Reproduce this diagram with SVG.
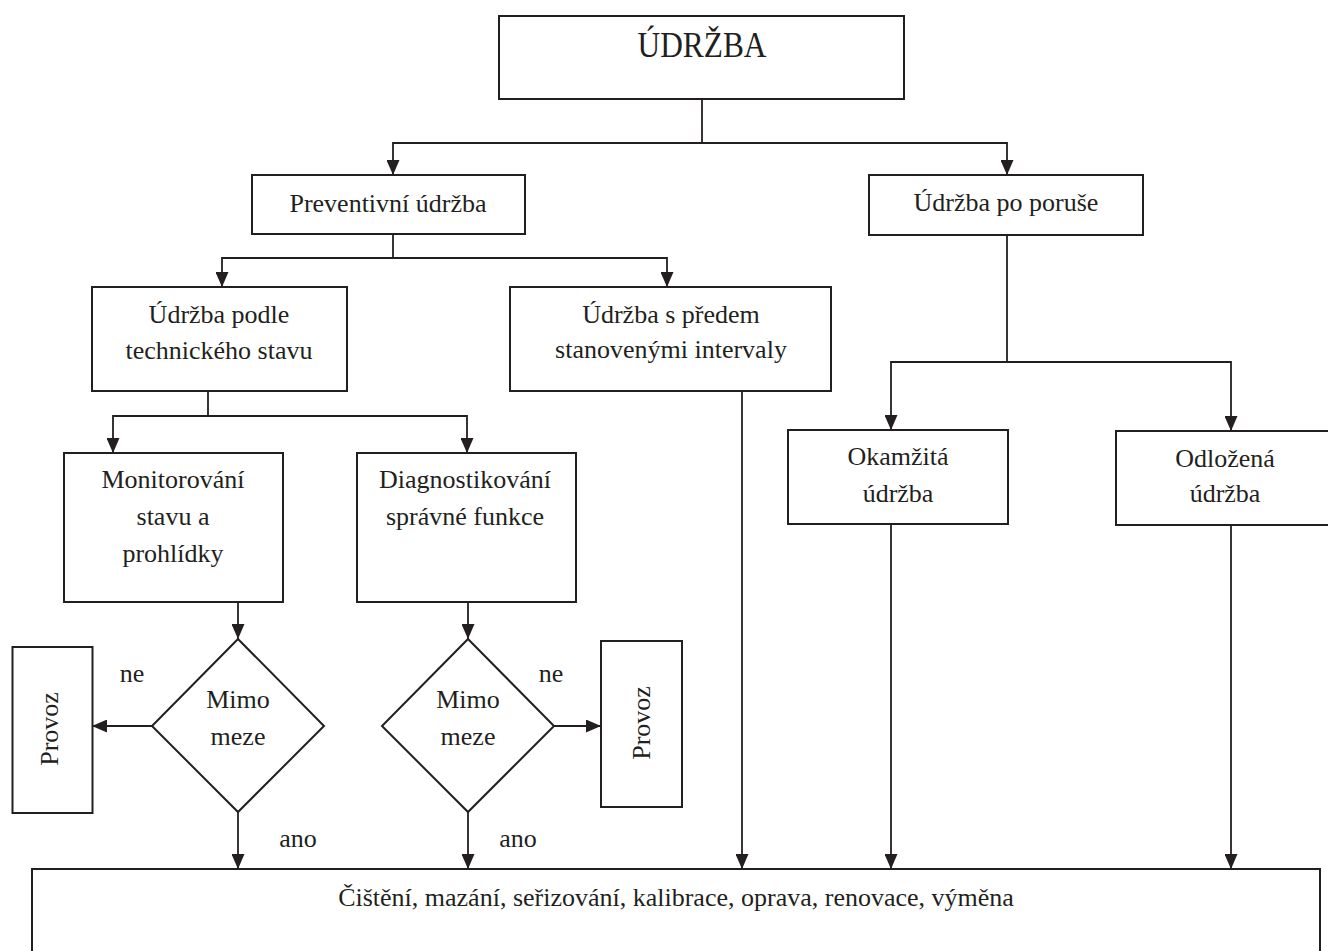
<svg xmlns="http://www.w3.org/2000/svg" width="1328" height="951" viewBox="0 0 1328 951">
<style>
  .box { fill: #ffffff; stroke: #231f20; stroke-width: 2; }
  .ln { fill: none; stroke: #231f20; stroke-width: 1.8; }
  .t { font-family: "Liberation Serif", "Times New Roman", serif; font-size: 26px; fill: #231f20; text-anchor: middle; }
  .title { font-size: 35px; }
</style>
<defs>
  <marker id="arr" viewBox="0 0 15 13" refX="15" refY="6.5" markerWidth="15" markerHeight="13" markerUnits="userSpaceOnUse" orient="auto">
    <path d="M0,0 L15,6.5 L0,13 Z" fill="#231f20"/>
  </marker>
</defs>
<rect width="1328" height="951" fill="#ffffff"/>

<g id="connectors">
  <path class="ln" d="M702,99 V143"/>
  <path class="ln" d="M702,143 H393 V175" marker-end="url(#arr)"/>
  <path class="ln" d="M702,143 H1007 V175" marker-end="url(#arr)"/>
  <path class="ln" d="M393,234 V258"/>
  <path class="ln" d="M393,258 H222 V287" marker-end="url(#arr)"/>
  <path class="ln" d="M393,258 H667 V287" marker-end="url(#arr)"/>
  <path class="ln" d="M208,391 V416"/>
  <path class="ln" d="M208,416 H113 V453" marker-end="url(#arr)"/>
  <path class="ln" d="M208,416 H467 V453" marker-end="url(#arr)"/>
  <path class="ln" d="M238,602 V639" marker-end="url(#arr)"/>
  <path class="ln" d="M468,602 V639" marker-end="url(#arr)"/>
  <path class="ln" d="M152,726 H92" marker-end="url(#arr)"/>
  <path class="ln" d="M554,726 H601" marker-end="url(#arr)"/>
  <path class="ln" d="M238,812 V869" marker-end="url(#arr)"/>
  <path class="ln" d="M468,812 V869" marker-end="url(#arr)"/>
  <path class="ln" d="M742,391 V869" marker-end="url(#arr)"/>
  <path class="ln" d="M1007,235 V362"/>
  <path class="ln" d="M1007,362 H891 V430" marker-end="url(#arr)"/>
  <path class="ln" d="M1007,362 H1231 V431" marker-end="url(#arr)"/>
  <path class="ln" d="M891,524 V869" marker-end="url(#arr)"/>
  <path class="ln" d="M1231,525 V869" marker-end="url(#arr)"/>
</g>

<g id="udrzba">
  <rect class="box" x="499" y="16" width="405" height="83"/>
  <text class="t title" x="702" y="57" textLength="129" lengthAdjust="spacingAndGlyphs">ÚDRŽBA</text>
</g>
<g id="preventivni">
  <rect class="box" x="252" y="175" width="273" height="59"/>
  <text class="t" x="388" y="212">Preventivní údržba</text>
</g>
<g id="po-poruse">
  <rect class="box" x="869" y="175" width="274" height="60"/>
  <text class="t" x="1006" y="211">Údržba po poruše</text>
</g>
<g id="podle-stavu">
  <rect class="box" x="92" y="287" width="255" height="104"/>
  <text class="t" x="219" y="323">Údržba podle</text>
  <text class="t" x="219" y="359">technického stavu</text>
</g>
<g id="intervaly">
  <rect class="box" x="510" y="287" width="321" height="104"/>
  <text class="t" x="671" y="323">Údržba s předem</text>
  <text class="t" x="671" y="358">stanovenými intervaly</text>
</g>
<g id="monitorovani">
  <rect class="box" x="64" y="453" width="219" height="149"/>
  <text class="t" x="173" y="488">Monitorování</text>
  <text class="t" x="173" y="525">stavu a</text>
  <text class="t" x="173" y="562">prohlídky</text>
</g>
<g id="diagnostikovani">
  <rect class="box" x="357" y="453" width="219" height="149"/>
  <text class="t" x="465" y="488">Diagnostikování</text>
  <text class="t" x="465" y="525">správné funkce</text>
</g>
<g id="okamzita">
  <rect class="box" x="788" y="430" width="220" height="94"/>
  <text class="t" x="898" y="465">Okamžitá</text>
  <text class="t" x="898" y="502">údržba</text>
</g>
<g id="odlozena">
  <rect class="box" x="1116" y="431" width="230" height="94"/>
  <text class="t" x="1225" y="467">Odložená</text>
  <text class="t" x="1225" y="502">údržba</text>
</g>
<g id="mimo-meze-1">
  <polygon class="box" points="238,639 324,726 238,812 152,726"/>
  <text class="t" x="238" y="708">Mimo</text>
  <text class="t" x="238" y="745">meze</text>
</g>
<g id="mimo-meze-2">
  <polygon class="box" points="468,639 554,726 468,812 382,726"/>
  <text class="t" x="468" y="708">Mimo</text>
  <text class="t" x="468" y="745">meze</text>
</g>
<g id="provoz-1">
  <rect class="box" x="12.5" y="647" width="80" height="166"/>
  <text class="t" transform="translate(58,729) rotate(-90)">Provoz</text>
</g>
<g id="provoz-2">
  <rect class="box" x="601" y="641" width="81" height="166"/>
  <text class="t" transform="translate(650,723) rotate(-90)">Provoz</text>
</g>
<g id="labels">
  <text class="t" x="132" y="682">ne</text>
  <text class="t" x="551" y="682">ne</text>
  <text class="t" x="298" y="847">ano</text>
  <text class="t" x="518" y="847">ano</text>
</g>
<g id="cinnosti">
  <rect class="box" x="32" y="869" width="1288" height="100"/>
  <text class="t" x="676" y="906">Čištění, mazání, seřizování, kalibrace, oprava, renovace, výměna</text>
</g>
</svg>
